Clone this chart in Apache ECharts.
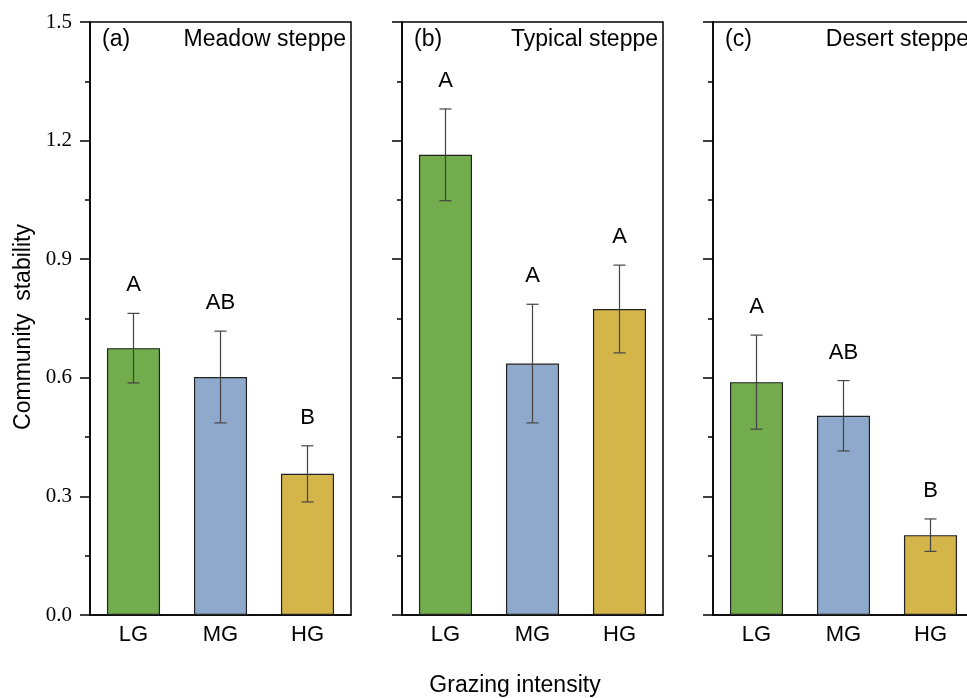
<!DOCTYPE html>
<html>
<head>
<meta charset="utf-8">
<script src="https://cdn.jsdelivr.net/npm/echarts@6/dist/echarts.min.js"></script>
<style>
  html, body { margin: 0; padding: 0; background: #fff; }
  #chart { width: 967px; height: 698px; }
</style>
</head>
<body>
<div id="chart"></div>
<script>
// grazing intensity groups
var categories = ['LG', 'MG', 'HG'];
var barColors = ['#72AC4C', '#8EA9CC', '#D3B54A'];

var panelTags = ['(a)', '(b)', '(c)'];
var panelNames = ['Meadow steppe', 'Typical steppe', 'Desert steppe'];

// community stability, mean and error
var meadowMean = [0.675, 0.602, 0.357];
var meadowErr = [0.088, 0.116, 0.071];
var meadowLetters = ['A', 'AB', 'B'];

var typicalMean = [1.164, 0.636, 0.774];
var typicalErr = [0.116, 0.150, 0.111];
var typicalLetters = ['A', 'A', 'A'];

var desertMean = [0.589, 0.504, 0.202];
var desertErr = [0.119, 0.089, 0.041];
var desertLetters = ['A', 'AB', 'B'];

var yMin = 0, yMax = 1.5, yStep = 0.3;

var panels = [
    { mean: meadowMean, err: meadowErr, letters: meadowLetters },
    { mean: typicalMean, err: typicalErr, letters: typicalLetters },
    { mean: desertMean, err: desertErr, letters: desertLetters }
];

var gridLefts = [90, 402, 713];
var sansFont = 'Liberation Sans, Arial, sans-serif';
var serifFont = 'Liberation Serif, Times New Roman, serif';

var grids = [], xAxes = [], yAxes = [], series = [], graphics = [];

panels.forEach(function (p, k) {
    grids.push({
        left: gridLefts[k], top: 22, width: 261, height: 593,
        outerBoundsMode: 'none', containLabel: false,
        show: true, borderColor: '#000', borderWidth: 1.5,
        backgroundColor: 'transparent'
    });

    // labelled axis, ticks under each bar
    xAxes.push({
        type: 'category', gridIndex: k, position: 'bottom',
        data: categories,
        axisLine: { lineStyle: { color: '#000', width: 1.5 } },
        axisTick: { alignWithLabel: true, length: 7, lineStyle: { color: '#000', width: 1.5 } },
        axisLabel: { color: '#000', fontFamily: sansFont, fontSize: 22, margin: 9 }
    });
    // boundary ticks between groups
    xAxes.push({
        type: 'category', gridIndex: k, position: 'bottom',
        data: categories,
        axisLine: { show: false },
        axisTick: { length: 5, lineStyle: { color: '#000', width: 1.5 } },
        axisLabel: { show: false }
    });

    yAxes.push({
        type: 'value', gridIndex: k,
        min: yMin, max: yMax, interval: yStep,
        axisLine: { show: true, lineStyle: { color: '#000', width: 1.5 } },
        axisTick: { show: true, length: 10, lineStyle: { color: '#000', width: 1.5 } },
        minorTick: { show: true, splitNumber: 2, length: 5, lineStyle: { color: '#000', width: 1.5 } },
        splitLine: { show: false },
        axisLabel: {
            show: k === 0, color: '#000', fontFamily: serifFont, fontSize: 21, margin: 18,
            formatter: function (v) { return v.toFixed(1); }
        }
    });

    series.push({
        type: 'bar', xAxisIndex: k * 2, yAxisIndex: k,
        barWidth: '61%',
        data: p.mean.map(function (v, i) {
            return { value: v, itemStyle: { color: barColors[i] } };
        }),
        itemStyle: { borderColor: '#222', borderWidth: 1.2 },
        animation: false
    });

    series.push({
        type: 'custom', xAxisIndex: k * 2, yAxisIndex: k,
        data: p.mean.map(function (v, i) { return [i, v, p.err[i]]; }),
        renderItem: function (params, api) {
            var i = api.value(0), m = api.value(1), e = api.value(2);
            var top = api.coord([i, m + e]);
            var bot = api.coord([i, m - e]);
            var cap = 6;
            var ls = { stroke: '#444', lineWidth: 1.2 };
            return {
                type: 'group',
                children: [
                    { type: 'line', shape: { x1: top[0], y1: top[1], x2: bot[0], y2: bot[1] }, style: ls },
                    { type: 'line', shape: { x1: top[0] - cap, y1: top[1], x2: top[0] + cap, y2: top[1] }, style: ls },
                    { type: 'line', shape: { x1: bot[0] - cap, y1: bot[1], x2: bot[0] + cap, y2: bot[1] }, style: ls },
                    {
                        type: 'text', x: top[0], y: top[1] - 28,
                        style: {
                            text: p.letters[params.dataIndex], fill: '#000',
                            font: '22px ' + sansFont, align: 'center', verticalAlign: 'middle'
                        }
                    }
                ]
            };
        },
        z: 5, animation: false
    });

    graphics.push({
        type: 'text', x: gridLefts[k] + 12, y: 40,
        style: { text: panelTags[k], font: '23px ' + sansFont, fill: '#000', verticalAlign: 'middle' }
    });
});

// panel names, right-aligned at each panel's inner edge
var nameRights = [346, 658, 969];
nameRights.forEach(function (r, k) {
    graphics.push({
        type: 'text', x: r, y: 40,
        style: {
            text: panelNames[k], font: '23px ' + sansFont, fill: '#000',
            align: 'right', verticalAlign: 'middle'
        }
    });
});

graphics.push({
    type: 'text', x: 24, y: 327, rotation: Math.PI / 2,
    style: {
        text: 'Community  stability', font: '23px ' + sansFont, fill: '#000',
        align: 'center', verticalAlign: 'middle'
    }
});
graphics.push({
    type: 'text', x: 515, y: 686,
    style: {
        text: 'Grazing intensity', font: '23px ' + sansFont, fill: '#000',
        align: 'center', verticalAlign: 'middle'
    }
});

var chart = echarts.init(document.getElementById('chart'));
chart.setOption({
    backgroundColor: '#fff',
    animation: false,
    grid: grids,
    xAxis: xAxes,
    yAxis: yAxes,
    series: series,
    graphic: graphics
});
</script>
</body>
</html>
